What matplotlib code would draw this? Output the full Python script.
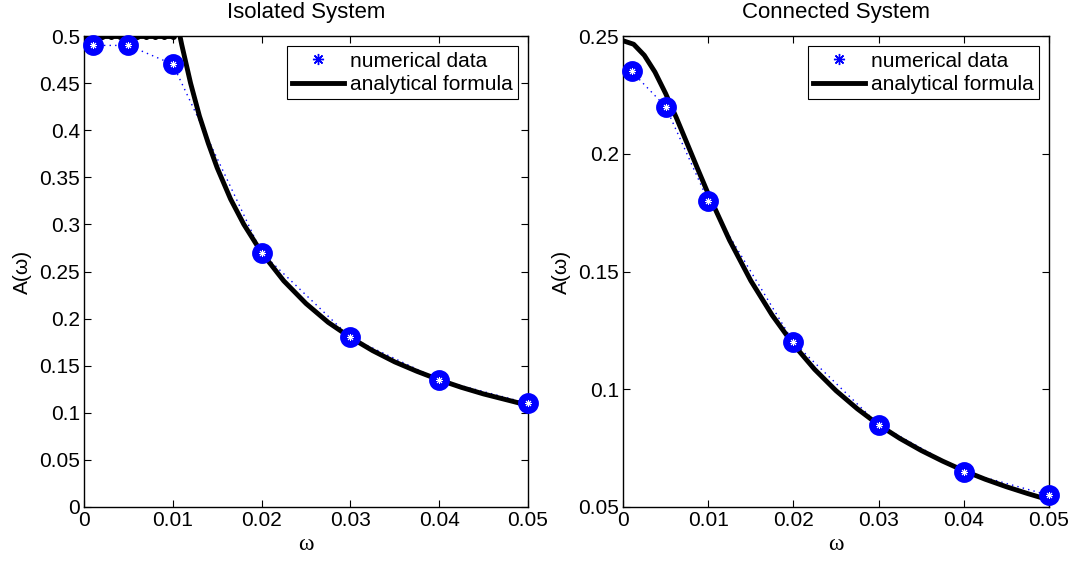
import matplotlib
matplotlib.use("Agg")
import matplotlib.pyplot as plt
from matplotlib.lines import Line2D

plt.rcParams['font.family'] = ['Liberation Sans', 'DejaVu Sans']

# ---------------- data ----------------
num_w = [0.001, 0.005, 0.01, 0.02, 0.03, 0.04, 0.05]
iso_num_A = [0.49, 0.49, 0.47, 0.27, 0.18, 0.135, 0.11]
con_num_A = [0.235, 0.22, 0.18, 0.12, 0.085, 0.065, 0.055]

iso_flat_w = [0.0, 0.001, 0.002, 0.003, 0.004, 0.005, 0.006, 0.007, 0.008, 0.009, 0.01]
iso_flat_A = [0.5, 0.5, 0.5, 0.5, 0.5, 0.5, 0.5, 0.5, 0.5, 0.5, 0.5]

iso_ana_w = [0.0105, 0.011, 0.012, 0.013, 0.014, 0.015, 0.0165, 0.018, 0.02, 0.0225,
             0.025, 0.0275, 0.03, 0.0325, 0.035, 0.0375, 0.04, 0.0425, 0.045, 0.0475, 0.05]
iso_ana_A = [0.514, 0.491, 0.450, 0.415, 0.386, 0.360, 0.327, 0.300, 0.270, 0.240,
             0.216, 0.196, 0.180, 0.166, 0.154, 0.144, 0.135, 0.127, 0.120, 0.114, 0.108]

con_ana_w = [0.0, 0.00125, 0.0025, 0.00375, 0.005, 0.00625, 0.0075, 0.00875, 0.01,
             0.0125, 0.015, 0.0175, 0.02, 0.0225, 0.025, 0.0275, 0.03, 0.0325, 0.035,
             0.0375, 0.04, 0.0425, 0.045, 0.0475, 0.05]
con_ana_A = [0.248, 0.2465, 0.2418, 0.2347, 0.2256, 0.2154, 0.2046, 0.1937, 0.183,
             0.1633, 0.1461, 0.1315, 0.119, 0.1084, 0.0994, 0.0917, 0.0849, 0.0791, 0.0740,
             0.0695, 0.0654, 0.0618, 0.0586, 0.0557, 0.0530]

x_ticks = [0, 0.01, 0.02, 0.03, 0.04, 0.05]
x_tick_labels = ['0', '0.01', '0.02', '0.03', '0.04', '0.05']
iso_y_ticks = [0, 0.05, 0.1, 0.15, 0.2, 0.25, 0.3, 0.35, 0.4, 0.45, 0.5]
iso_y_labels = ['0', '0.05', '0.1', '0.15', '0.2', '0.25', '0.3', '0.35', '0.4', '0.45', '0.5']
con_y_ticks = [0.05, 0.1, 0.15, 0.2, 0.25]
con_y_labels = ['0.05', '0.1', '0.15', '0.2', '0.25']

BLUE = '#0000ff'
FS = 15
ASTER = (8, 2, 0)

fig = plt.figure(figsize=(10.77, 5.63), dpi=100)
ax1 = fig.add_axes([84/1077, 56/563, 444/1077, 471/563])
ax2 = fig.add_axes([623/1077, 56/563, 426/1077, 471/563])


def style(ax, yt, yl, ylim):
    ax.set_xlim(0, 0.05)
    ax.set_ylim(*ylim)
    ax.set_xticks(x_ticks)
    ax.set_xticklabels(x_tick_labels)
    ax.set_yticks(yt)
    ax.set_yticklabels(yl)
    ax.tick_params(direction='in', top=True, right=True, length=5, width=0.8,
                   labelsize=FS, pad=3)
    for s in ax.spines.values():
        s.set_linewidth(1.0)
    ax.set_xlabel('ω', fontsize=17, family=['Liberation Serif', 'DejaVu Serif'], labelpad=3)
    ax.set_ylabel('A(ω)', fontsize=FS, labelpad=5)


def draw_num(ax, w, A):
    ax.plot(w, A, linestyle=(0, (1, 3)), color=BLUE, lw=1.0, zorder=2)
    ax.plot(w, A, linestyle='none', marker='o', ms=11.5, mew=3.5, mec=BLUE,
            mfc=BLUE, zorder=4, clip_on=False)
    ax.plot(w, A, linestyle='none', marker=ASTER, ms=5, mew=0.7, color='white', zorder=5,
            clip_on=False)


def legend(ax):
    h = [Line2D([], [], linestyle='none', marker=ASTER, color=BLUE, ms=8, mew=1.0),
         Line2D([], [], color='black', lw=3.5)]
    leg = ax.legend(h, ['numerical data', 'analytical formula'], loc='upper right',
                    fontsize=FS, frameon=True, fancybox=False, framealpha=1,
                    edgecolor='black', borderpad=0.25, labelspacing=0.22,
                    handlelength=2.5, handletextpad=0.25, borderaxespad=0.5)
    leg.get_frame().set_linewidth(0.8)


# Left panel
draw_num(ax1, num_w, iso_num_A)
ax1.plot(iso_flat_w, iso_flat_A, color='black', lw=3.5, marker='o', ms=4, zorder=3)
ax1.plot(iso_ana_w, iso_ana_A, color='black', lw=3.5, zorder=3)
style(ax1, iso_y_ticks, iso_y_labels, (0, 0.5))
ax1.set_title('Isolated System', fontsize=16, pad=13)
legend(ax1)

# Right panel
draw_num(ax2, num_w, con_num_A)
ax2.plot(con_ana_w, con_ana_A, color='black', lw=3.5, zorder=3)
style(ax2, con_y_ticks, con_y_labels, (0.05, 0.25))
ax2.set_title('Connected System', fontsize=16, pad=13)
legend(ax2)

fig.savefig('out.png', dpi=100)
